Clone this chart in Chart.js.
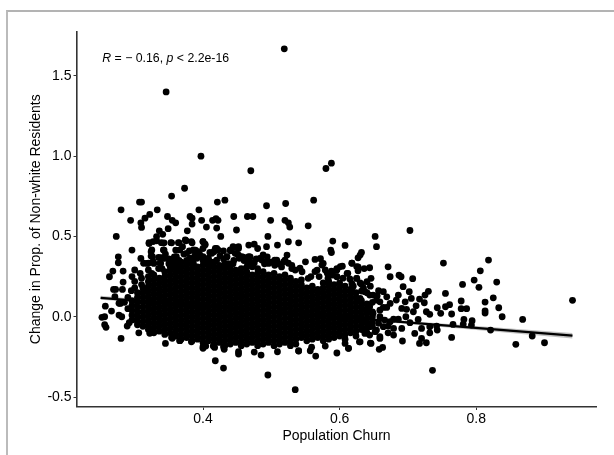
<!DOCTYPE html>
<html>
<head>
<meta charset="utf-8">
<script src="https://cdn.jsdelivr.net/npm/chart.js@4"></script>
<style>
  body { margin: 0; background: #fff; }
  #frame { position: absolute; left: 6px; top: 10px; width: 608px; height: 445px; box-sizing: border-box; border-top: 2px solid #b3b3b3; border-left: 2px solid #bbb; }
  canvas { position: absolute; left: 0; top: 0; }
</style>
</head>
<body>
<div id="frame"></div>
<canvas id="chart" width="614" height="455"></canvas>
<script>
// points that can be read one by one, from top down
const pointChurn = [
  .519,.346,.397,.47,.58,.588,.373,.354,.307,.31,.28,.333,.322,.294,.315,.309,
  .348,.355,.36,.381,.384,.384,.394,.421,.432,.398,.414,.419,.422,.405,.42,.445,
  .465,.473,.493,.521,.562,.499,.52,.525,.527,.554,.31,.336,.349,.377,.449,
  .273,.426,.495,.509,.525,.54,.59,.587,.588,.467,.475,.48,.493,.296,.309,.276,.276,
  .268,.283,.263,.283,.269,.272,.282,.295,.257,.266,.252,.256,.256,.258,.28,.277,.281,
  .289,.279,.306,.345,.418,.43,.495,.535,.475,.485,.452,.452,.40,.404,.417,.431,
  .509,.54,.557,.565,.596,.579,
  .321,.332,.343,.354,.365,.375,.384,.40,.403,.343,.324,.324,.335,.343,.318,.328,.338,
  .36,.37,.358,.389,.40,.42,.416,.435,.445,.452,.44,.452,.46,.469,.486,.494,.523,
  .508,.518,.55,.564,.572,.576,.567,.596,.582,.472,.496,
  .703,.652,.654,.608,.632,.63,.627,.618,.604,.596,.588,.627,.627,.636,.644,.612,
  .671,.674,.687,.69,.707,.752,.818,.806,.797,.804,.78,.83,.755,.825,.813,.778,.833,
  .813,.813,.778,.786,.838,.868,.941,.821,.882,.858,.90,.764,.736,.782,.781,.794,.793,
  .766,.764,.743,.748,.755,.761,.742,.743,.727,.732,.73,.725,.702,.705,.693,.686,.683,
  .674,.669,.724,.717,.712,.708,.696,.691,.698,.697,.715,.703,.732,.732,.72,.71,.691,
  .692,.72,.717,.727,.679,.671,.659,.663,.658,.645,.644,.63,.613,.608,.664,.657,.649,
  .646,.64,.632,.618,.618,.596,.637,.625,.659,.659,.644,.686,.674,.664,.654
];
const pointChange = [
  1.668,1.40,1.00,.909,.923,.956,.80,.751,.714,.714,.666,.666,.637,.60,.614,.585,
  .624,.60,.585,.624,.614,.577,.666,.714,.726,.60,.60,.61,.60,.558,.552,.624,
  .624,.624,.691,.705,.726,.60,.60,.585,.558,.566,.556,.535,.548,.535,.54,
  .50,.50,.50,.446,.467,.46,.471,.415,.40,.446,.452,.425,.436,.415,.363,.373,.336,
  .284,.284,.249,.216,.17,.17,.17,.162,.066,.035,-.004,0,-.05,-.066,-.135,.01,0,
  -.058,.083,-.10,-.166,-.274,-.32,-.363,-.454,-.22,-.239,-.232,-.218,-.197,-.183,-.191,-.203,
  -.218,-.214,-.212,-.245,-.226,-.183,
  .456,.473,.46,.46,.46,.473,.46,.467,.452,.415,.405,.378,.369,.363,.332,.332,.332,
  .415,.436,.373,.415,.425,.425,.405,.373,.432,.425,.411,.384,.369,.373,.353,.373,.384,
  .353,.342,.342,.357,.361,.332,.29,.30,.27,.311,.332,
  .537,.50,.436,.444,.40,.384,.367,.334,.315,.295,.284,.311,.286,.30,.305,.27,
  .311,.249,.259,.249,.237,.334,.353,.286,.228,.183,.201,.216,.145,.118,.091,.098,.056,
  .037,.023,.05,.05,0,-.017,.102,-.083,-.12,-.172,-.162,-.129,-.334,-.017,-.046,-.025,-.052,
  -.048,.017,.056,.021,.062,.075,-.058,-.083,.031,.015,.158,.135,.156,.114,.187,.135,.104,
  .083,.058,.087,.11,.068,.031,.093,.052,.046,0,-.017,-.037,-.062,-.10,-.073,-.104,-.073,
  -.151,-.135,-.166,-.162,-.114,-.10,-.135,-.191,-.203,-.164,-.114,-.156,-.197,-.166,.156,.162,.135,
  .239,.218,.203,.207,.176,.249,.156,.239,.041,.093,.062,-.015,-.031,-.062,-.083
];

const edgeChurn = [
  .332,.341,.327,.339,.321,.353,.325,.342,.326,.339,.337,.327,.32,.352,.364,.374,.383,
  .366,.361,.359,.364,.376,.386,.393,.40,.403,.381,.391,.40,.408,.418,.422,.413,.42,
  .435,.444,.452,.44,.447,.453,.427,.437,.444,.376,.386,.313,.30,.296,.308,.32,
  .488,.484,.505,.467,.457,.52,.525,.564,.574,.579,.601,.596,.618,.611,.625,.625,.586,
  .596,.554,.542,.535,.465,.475,.495,.51,.53,
  .313,.271,.277,.292,.322,.355,.366,.354,.366,.383,.40,.415,.43,.54,.559,.613,.629,.646,.659,
  .659,.666,.679,.649,.657,.671,.679,.644,.652,.637,.637,.64,.63,.669,.654,.644,.664,
  .345,.35,.355,.365,.372,.38,.388,.395,.41,.405,.412,.425,.43,.43,.445,.45,.46,.47,.478,
  .49,.50,.515,.505,.53,.545,.558,.57,.583,.59,.605,.615,.62,.635,.63,.645,.655,.64,
  .31,.30,.29,.285,.29,.30,.31,.325,.335,.34,.35
];
const edgeChange = [
  .499,.513,.468,.461,.461,.461,.416,.416,.374,.368,.333,.343,.333,.312,.461,.478,.468,
  .416,.374,.333,.312,.395,.416,.405,.468,.447,.364,.364,.374,.364,.426,.416,.395,.353,
  .374,.436,.436,.416,.395,.364,.312,.33,.33,.323,.33,.333,.291,.25,.27,.291,
  .385,.364,.353,.374,.374,.353,.333,.281,.322,.291,.312,.291,.333,.27,.239,.312,.27,
  .25,.239,.302,.291,.345,.335,.345,.33,.32,
  .166,.125,.084,-.037,-.103,-.134,-.149,-.129,-.149,-.156,-.187,-.183,-.187,-.212,-.19,-.197,-.156,-.166,-.124,
  0,-.021,-.015,.021,-.041,-.058,-.073,-.062,-.093,-.104,-.021,.041,.114,.124,.104,.135,.058,
  .39,.36,.34,.35,.39,.41,.38,.39,.40,.345,.34,.38,.36,.41,.35,.39,.35,.34,.36,
  .33,.34,.31,.32,.30,.28,.25,.25,.24,.26,.24,.235,.19,.18,.21,.19,.13,.15,
  .20,.18,.12,.09,.05,.22,.24,.27,.30,.30,.33
];

// the solid black middle cannot be read dot by dot: its outline is read off the
// picture and these columns of estimated values fill it in
const coreChurn = [
  .296,.304,.312,.32,.328,.336,.344,.352,.36,.368,.376,.384,.392,.40,.408,
  .416,.424,.432,.44,.448,.456,.464,.472,.48,.488,.496,.504,.512,.52,.528,
  .536,.544,.552,.56,.568,.576,.584,.592,.60,.608,.616,.624,.632,.64,.648
];
const coreChange = [
  [.10,.07,.04,.01,-.02],
  [.15,.12,.09,.06,.03,0,-.03,-.05],
  [.18,.15,.12,.09,.06,.03,0,-.03,-.06],
  [.25,.22,.19,.16,.13,.10,.07,.04,.01,-.02,-.05,-.08],
  [.26,.23,.20,.17,.14,.11,.08,.05,.02,-.01,-.04,-.07,-.10],
  [.24,.21,.18,.15,.12,.09,.06,.03,0,-.03,-.06,-.09],
  [.28,.25,.22,.19,.16,.13,.10,.07,.04,.01,-.02,-.05,-.08,-.11],
  [.32,.29,.26,.23,.20,.17,.14,.11,.08,.05,.02,-.01,-.04,-.07,-.10],
  [.30,.27,.24,.21,.18,.15,.12,.09,.06,.03,0,-.03,-.06,-.09,-.12],
  [.34,.31,.28,.25,.22,.19,.16,.13,.10,.07,.04,.01,-.02,-.05,-.08,-.11,-.14],
  [.35,.32,.29,.26,.23,.20,.17,.14,.11,.08,.05,.02,-.01,-.04,-.07,-.10,-.13],
  [.36,.33,.30,.27,.24,.21,.18,.15,.12,.09,.06,.03,0,-.03,-.06,-.09,-.12,-.15],
  [.31,.28,.25,.22,.19,.16,.13,.10,.07,.04,.01,-.02,-.05,-.08,-.11,-.14],
  [.35,.32,.29,.26,.23,.20,.17,.14,.11,.08,.05,.02,-.01,-.04,-.07,-.10,-.13,-.16],
  [.33,.30,.27,.24,.21,.18,.15,.12,.09,.06,.03,0,-.03,-.06,-.09,-.12,-.15],
  [.34,.31,.28,.25,.22,.19,.16,.13,.10,.07,.04,.01,-.02,-.05,-.08,-.11,-.14,-.17],
  [.32,.29,.26,.23,.20,.17,.14,.11,.08,.05,.02,-.01,-.04,-.07,-.10,-.13,-.16],
  [.33,.30,.27,.24,.21,.18,.15,.12,.09,.06,.03,0,-.03,-.06,-.09,-.12,-.15,-.18],
  [.31,.28,.25,.22,.19,.16,.13,.10,.07,.04,.01,-.02,-.05,-.08,-.11,-.14,-.17],
  [.29,.26,.23,.20,.17,.14,.11,.08,.05,.02,-.01,-.04,-.07,-.10,-.13,-.16],
  [.30,.27,.24,.21,.18,.15,.12,.09,.06,.03,0,-.03,-.06,-.09,-.12,-.15,-.18],
  [.31,.28,.25,.22,.19,.16,.13,.10,.07,.04,.01,-.02,-.05,-.08,-.11,-.14,-.17],
  [.26,.23,.20,.17,.14,.11,.08,.05,.02,-.01,-.04,-.07,-.10,-.13,-.16],
  [.30,.27,.24,.21,.18,.15,.12,.09,.06,.03,0,-.03,-.06,-.09,-.12,-.15,-.18],
  [.28,.25,.22,.19,.16,.13,.10,.07,.04,.01,-.02,-.05,-.08,-.11,-.14,-.17],
  [.26,.23,.20,.17,.14,.11,.08,.05,.02,-.01,-.04,-.07,-.10,-.13,-.16],
  [.27,.24,.21,.18,.15,.12,.09,.06,.03,0,-.03,-.06,-.09,-.12,-.15,-.18],
  [.25,.22,.19,.16,.13,.10,.07,.04,.01,-.02,-.05,-.08,-.11,-.14,-.17],
  [.26,.23,.20,.17,.14,.11,.08,.05,.02,-.01,-.04,-.07,-.10,-.13,-.16],
  [.24,.21,.18,.15,.12,.09,.06,.03,0,-.03,-.06,-.09,-.12,-.15,-.18],
  [.22,.19,.16,.13,.10,.07,.04,.01,-.02,-.05,-.08,-.11,-.14,-.17],
  [.23,.20,.17,.14,.11,.08,.05,.02,-.01,-.04,-.07,-.10,-.13],
  [.18,.15,.12,.09,.06,.03,0,-.03,-.06,-.09,-.12,-.15],
  [.19,.16,.13,.10,.07,.04,.01,-.02,-.05,-.08,-.11,-.14],
  [.17,.14,.11,.08,.05,.02,-.01,-.04,-.07,-.10,-.13],
  [.21,.18,.15,.12,.09,.06,.03,0,-.03,-.06,-.09,-.12,-.15],
  [.22,.19,.16,.13,.10,.07,.04,.01,-.02,-.05,-.08,-.11,-.14],
  [.20,.17,.14,.11,.08,.05,.02,-.01,-.04,-.07,-.10,-.13],
  [.21,.18,.15,.12,.09,.06,.03,0,-.03,-.06,-.09,-.12],
  [.19,.16,.13,.10,.07,.04,.01,-.02,-.05,-.08,-.11,-.14],
  [.17,.14,.11,.08,.05,.02,-.01,-.04,-.07,-.10],
  [.15,.12,.09,.06,.03,0,-.03,-.06,-.09,-.12],
  [.16,.10,.07,.04,.01,-.02,-.05,-.08],
  [.08,.05,.02,-.01,-.04,-.07,-.10],
  [.09,.03,0,-.03,-.06]
];

const fitChurn = [.25, .941];
const fitChange = [.118, -.118];
const bandChurn = [.25, .35, .46, .6, .75, .941];
const bandUpper = [.130, .092, .051, .005, -.042, -.101];
const bandLower = [.106, .076, .041, -.009, -.064, -.135];

const xTicks = [.4, .6, .8];
const yTicks = [-.5, 0, .5, 1, 1.5];

const toXY = (xs, ys) => xs.map((x, i) => ({ x, y: ys[i] }));
const points = toXY(pointChurn, pointChange).concat(toXY(edgeChurn, edgeChange));
coreChurn.forEach((x, i) => coreChange[i].forEach(y => points.push({ x, y })));

// stat_cor style label, with R and p in italics
const corLabel = {
  id: 'corLabel',
  afterDraw(chart) {
    const ctx = chart.ctx;
    const parts = [['R', true], [' = \u2212 0.16, ', false], ['p', true], [' < 2.2e-16', false]];
    let x = chart.scales.x.getPixelForValue(.2525);
    const y = chart.scales.y.getPixelForValue(1.606);
    ctx.save();
    ctx.fillStyle = '#000';
    ctx.textBaseline = 'middle';
    parts.forEach(([text, italic]) => {
      ctx.font = (italic ? 'italic ' : '') + '12.3px "Liberation Sans"';
      ctx.fillText(text, x, y);
      x += ctx.measureText(text).width;
    });
    ctx.restore();
  }
};

const axisFont = { family: 'Liberation Sans', size: 14 };

new Chart(document.getElementById('chart'), {
  type: 'scatter',
  data: {
    datasets: [
      { data: points, backgroundColor: '#000', borderWidth: 0, pointRadius: 3.4, order: 0 },
      { type: 'line', data: toXY(fitChurn, fitChange), borderColor: '#000', borderWidth: 2.2, pointRadius: 0, order: 1 },
      { type: 'line', data: toXY(bandChurn, bandUpper), borderWidth: 0, pointRadius: 0, fill: '+1', backgroundColor: 'rgba(153,153,153,0.6)', order: 2 },
      { type: 'line', data: toXY(bandChurn, bandLower), borderWidth: 0, pointRadius: 0, order: 3 }
    ]
  },
  options: {
    responsive: false,
    animation: false,
    devicePixelRatio: 1,
    layout: { padding: { top: 32, right: 18, left: 28, bottom: 10.5 } },
    plugins: { legend: { display: false }, tooltip: { enabled: false } },
    scales: {
      x: {
        type: 'linear',
        min: .2155,
        max: .9754,
        afterBuildTicks: s => { s.ticks = xTicks.map(value => ({ value })); },
        afterFit: s => { s.height = 38; },
        border: { color: '#333', width: 1.6 },
        grid: { drawOnChartArea: false, tickColor: '#333', tickLength: 3.5, tickWidth: 1 },
        ticks: { color: '#000', font: axisFont, padding: 1, callback: v => v.toFixed(1), maxRotation: 0 },
        title: { display: true, text: 'Population Churn', color: '#000', font: axisFont, padding: { top: 1, bottom: 0 } }
      },
      y: {
        min: -.559,
        max: 1.773,
        afterBuildTicks: s => { s.ticks = yTicks.map(value => ({ value })); },
        afterFit: s => { s.width = 49; },
        border: { color: '#333', width: 1.6 },
        grid: { drawOnChartArea: false, tickColor: '#333', tickLength: 3.5, tickWidth: 1 },
        ticks: { color: '#000', font: axisFont, padding: 2, callback: v => v.toFixed(1) },
        title: { display: true, text: 'Change in Prop. of Non-white Residents', color: '#000', font: axisFont, padding: { top: 0, bottom: 0 } }
      }
    }
  },
  plugins: [corLabel]
});
</script>
</body>
</html>
